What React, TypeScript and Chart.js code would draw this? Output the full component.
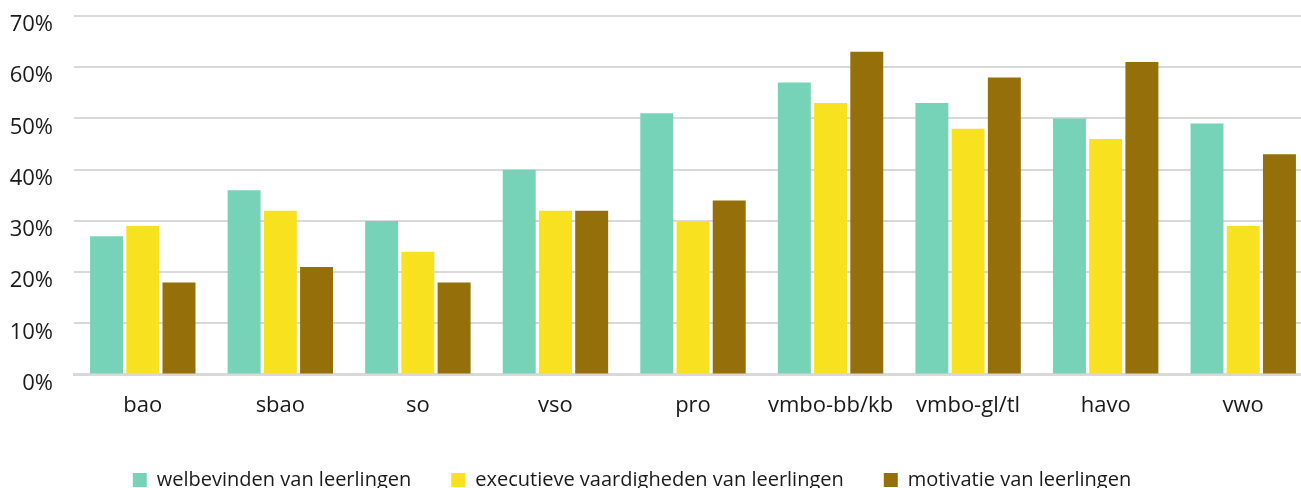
import React, { useEffect, useRef } from "react";
import { Chart, registerables } from "chart.js";

Chart.register(...registerables);

const categories = ["bao", "sbao", "so", "vso", "pro", "vmbo-bb/kb", "vmbo-gl/tl", "havo", "vwo"];
const welbevinden = [27, 36, 30, 40, 51, 57, 53, 50, 49];
const executieve = [29, 32, 24, 32, 30, 53, 48, 46, 29];
const motivatie = [18, 21, 18, 32, 34, 63, 58, 61, 43];
const seriesLabels = [
  "welbevinden van leerlingen",
  "executieve vaardigheden van leerlingen",
  "motivatie van leerlingen",
];
const yTicks = [0, 10, 20, 30, 40, 50, 60, 70];

const FONT = "'Open Sans', 'Noto Sans', sans-serif";

const legendShift = {
  id: "legendShift",
  afterLayout(chart: any) {
    if (chart.legend) chart.legend.left -= 48;
  },
};

export default function App() {
  const ref = useRef<HTMLCanvasElement | null>(null);
  useEffect(() => {
    if (!ref.current) return;
    const chart = new Chart(ref.current, {
      type: "bar",
      data: {
        labels: categories,
        datasets: [
          { label: seriesLabels[0], data: welbevinden, backgroundColor: "#76d3b8", borderWidth: 0 },
          { label: seriesLabels[1], data: executieve, backgroundColor: "#f8e11e", borderWidth: 0 },
          { label: seriesLabels[2], data: motivatie, backgroundColor: "#95700a", borderWidth: 0 },
        ],
      },
      plugins: [legendShift],
      options: {
        responsive: false,
        animation: false,
        categoryPercentage: 0.79,
        barPercentage: 0.91,
        layout: { padding: { top: 0, left: 0, right: 0, bottom: 0 } },
        plugins: {
          tooltip: { enabled: false },
          legend: {
            position: "bottom",
            labels: {
              boxWidth: 14,
              boxHeight: 14,
              padding: 40,
              color: "#1a1a1a",
              font: { family: FONT, size: 20 },
            },
          },
        },
        scales: {
          x: {
            grid: { display: false },
            border: { display: true, color: "#d9d9d9", width: 3 },
            ticks: { color: "#1a1a1a", padding: 10, font: { family: FONT, size: 22 } },
            afterFit: (scale: any) => {
              scale.height += 1;
            },
          },
          y: {
            min: 0,
            max: 70,
            afterBuildTicks: (scale: any) => {
              scale.ticks = yTicks.map((v) => ({ value: v }));
            },
            grid: { color: "#d9d9d9", lineWidth: 2, drawTicks: false },
            border: { display: false },
            ticks: {
              color: "#1a1a1a",
              padding: 21,
              labelOffset: 9,
              font: { family: FONT, size: 22 },
              callback: (v: any) => v + "%",
            },
            afterFit: (scale: any) => {
              scale.width = 74;
              scale.paddingTop = 16;
              scale.paddingBottom = 0;
            },
          },
        },
      },
    });
    return () => chart.destroy();
  }, []);
  return (
    <div style={{ position: "fixed", left: 0, top: 0, width: 1301, height: 488, overflow: "hidden", background: "#fff" }}>
      <canvas ref={ref} width={1312} height={500} style={{ display: "block", width: 1312, height: 500 }} />
    </div>
  );
}
